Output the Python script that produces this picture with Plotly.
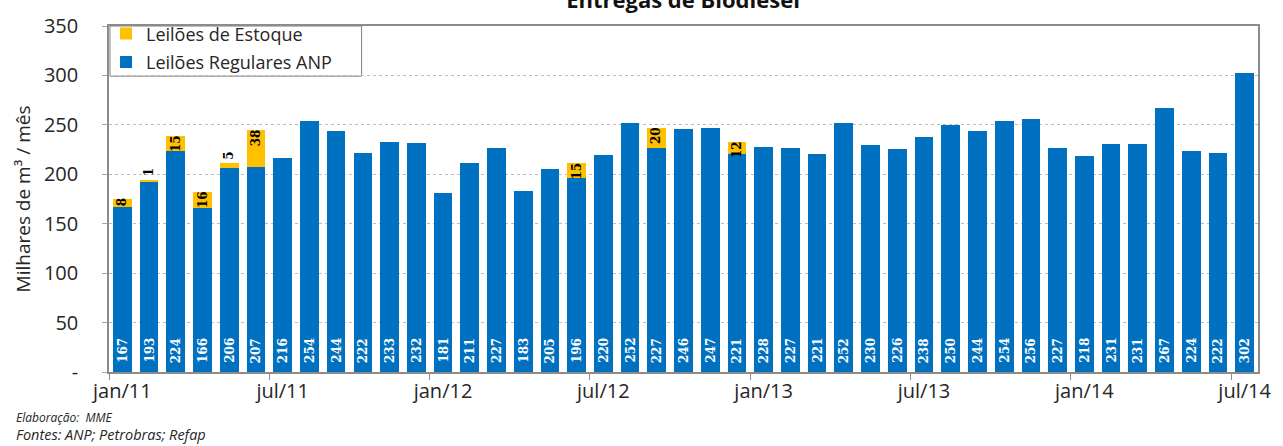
import plotly.graph_objects as go

# Monthly biodiesel deliveries (thousand m³ / month), jan/2011 .. jul/2014
months = [f"{m}/{y}" for y in ("11", "12", "13", "14")
          for m in ("jan", "fev", "mar", "abr", "mai", "jun",
                    "jul", "ago", "set", "out", "nov", "dez")][:43]

regulares = [167, 193, 224, 166, 206, 207, 216, 254, 244, 222, 233, 232,
             181, 211, 227, 183, 205, 196, 220, 252, 227, 246, 247, 221,
             228, 227, 221, 252, 230, 226, 238, 250, 244, 254, 256, 227,
             218, 231, 231, 267, 224, 222, 302]

estoque = [8, 1, 15, 16, 5, 38, 0, 0, 0, 0, 0, 0,
           0, 0, 0, 0, 0, 15, 0, 0, 20, 0, 0, 12,
           0, 0, 0, 0, 0, 0, 0, 0, 0, 0, 0, 0,
           0, 0, 0, 0, 0, 0, 0]

x_labels = ["jan/11", "jul/11", "jan/12", "jul/12", "jan/13", "jul/13", "jan/14", "jul/14"]
y_ticks = [0, 50, 100, 150, 200, 250, 300, 350]
y_ticktext = ["-", "50", "100", "150", "200", "250", "300", "350"]

BLUE = "#0070C0"
GOLD = "#FFC000"
TEXT = "#262626"
AXIS = "#8C8C8C"
FONT = "Open Sans"
LABEL_FONT = "DejaVu Serif"
W, H = 1283, 446
ML, MR, MT, MB = 109, 14, 20, 74
plot_h = H - MT - MB
plot_w = W - ML - MR


def px_x(px):
    """horizontal pixel -> paper fraction"""
    return (px - ML) / plot_w


def px_y(py):
    """vertical pixel -> paper fraction"""
    return (H - MB - py) / plot_h


idx = list(range(len(regulares)))
label_idx = [i for i in idx if i % 6 == 0]

fig = go.Figure()
fig.add_trace(go.Bar(
    x=idx, y=regulares, name="Leilões Regulares ANP",
    marker=dict(color=BLUE, line=dict(width=0)),
    hovertext=months, hoverinfo="text+y", legend="legend2",
))
fig.add_trace(go.Bar(
    x=idx, y=estoque, name="Leilões de Estoque",
    marker=dict(color=GOLD, line=dict(width=0)),
    hovertext=months, hoverinfo="text+y", legend="legend",
))

annotations = []
# value of each regular-auction bar, written upward from the bar base
for i, v in zip(idx, regulares):
    annotations.append(dict(
        x=i, y=0, xref="x", yref="y", text=f"<b>{v}</b>", textangle=-90,
        xanchor="center", yanchor="bottom", yshift=8, borderpad=0, showarrow=False,
        font=dict(family=LABEL_FONT, size=12, color="white"),
    ))
# stock-auction amounts: on the gold segment, or above it when it is very thin
for i, base, v in zip(idx, regulares, estoque):
    if not v:
        continue
    top = base + v
    if v < 8:
        pos = dict(yanchor="bottom", yshift=3)
    else:
        pos = dict(yanchor="top", yshift=2)
    annotations.append(dict(
        x=i, y=top, xref="x", yref="y", text=f"<b>{v}</b>", textangle=-90,
        xanchor="center", borderpad=0, showarrow=False,
        font=dict(family=LABEL_FONT, size=12, color="black"), **pos,
    ))
annotations += [
    dict(text="<i>Elaboração:  MME</i>", xref="paper", yref="paper",
         x=px_x(14), y=px_y(418), xanchor="left", yanchor="middle", borderpad=0,
         showarrow=False, font=dict(family=FONT, size=12, color=TEXT)),
    dict(text="<i>Fontes: ANP; Petrobras; Refap</i>", xref="paper", yref="paper",
         x=px_x(14), y=px_y(436), xanchor="left", yanchor="middle", borderpad=0,
         showarrow=False, font=dict(family=FONT, size=14.5, color=TEXT)),
]

legend_common = dict(xanchor="left", yanchor="middle", bgcolor="rgba(0,0,0,0)",
                     borderwidth=0, itemwidth=30,
                     font=dict(family=FONT, size=18, color=TEXT))

fig.update_layout(
    width=W, height=H,
    margin=dict(l=ML, r=MR, t=MT, b=MB),
    barmode="stack", bargap=0.3,
    plot_bgcolor="white", paper_bgcolor="white",
    font=dict(family=FONT, color=TEXT),
    title=dict(text="<b>Entregas de Biodiesel</b>", xref="container", x=683 / W,
               xanchor="center", yref="container", y=1.0, yanchor="middle",
               font=dict(family=FONT, size=22, color="#111111")),
    legend=dict(x=px_x(106), y=px_y(28), **legend_common),
    legend2=dict(x=px_x(106), y=px_y(57), **legend_common),
    showlegend=True,
    shapes=[dict(type="rect", xref="x domain", yref="y domain",
                 x0=px_x(110), x1=px_x(364), y0=px_y(71), y1=px_y(20),
                 line=dict(color="#7F7F7F", width=1), fillcolor="white",
                 layer="below")],
    xaxis=dict(
        range=[-0.5, len(idx) - 0.5],
        tickmode="array", tickvals=label_idx, ticktext=x_labels,
        ticks="", showgrid=False, zeroline=False,
        showline=True, linecolor=AXIS, linewidth=1.5, mirror=True,
        tickfont=dict(family=FONT, size=20, color=TEXT),
        minor=dict(tickmode="array", tickvals=[i - 0.5 for i in label_idx],
                   ticks="outside", ticklen=6, tickcolor=AXIS, showgrid=False),
    ),
    yaxis=dict(
        range=[0, 350],
        tickmode="array", tickvals=y_ticks, ticktext=y_ticktext,
        ticks="outside", ticklen=5, tickcolor="#A6A6A6",
        ticklabelstandoff=20,
        showgrid=True, gridcolor="#BDBDBD", griddash="3px,3px", gridwidth=1,
        zeroline=False,
        showline=True, linecolor=AXIS, linewidth=1.5, mirror=True,
        tickfont=dict(family=FONT, size=20, color=TEXT),
        title=dict(text="Milhares de m³ / mês", standoff=8,
                   font=dict(family=FONT, size=19, color=TEXT)),
    ),
    annotations=annotations,
)

fig.write_html("out.html")
